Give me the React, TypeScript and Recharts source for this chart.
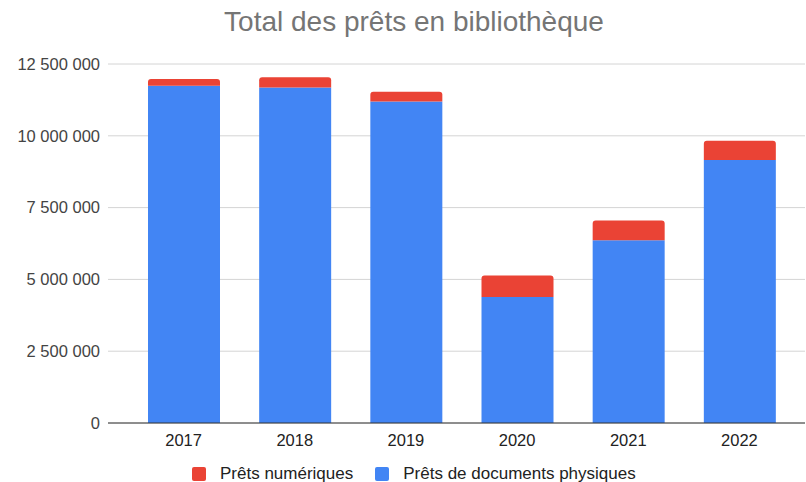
import { BarChart, Bar, XAxis, YAxis, CartesianGrid } from "recharts";

const years = ["2017", "2018", "2019", "2020", "2021", "2022"];
const physical = [11740000, 11680000, 11190000, 4390000, 6360000, 9160000];
const digital = [240000, 360000, 340000, 750000, 690000, 670000];
const yTicks = [0, 2500000, 5000000, 7500000, 10000000, 12500000];

const title = "Total des prêts en bibliothèque";
const physicalName = "Prêts de documents physiques";
const digitalName = "Prêts numériques";

const BLUE = "#4285f4";
const RED = "#ea4335";
const FONT = "'Liberation Sans', Arial, sans-serif";

const data = years.map((year, i) => ({
  year,
  physical: physical[i],
  digital: digital[i],
}));

// French style thousands separator: 12 500 000
const fmt = (v: number) => String(v).replace(/\B(?=(\d{3})+(?!\d))/g, " ");

export default function App() {
  return (
    <div
      style={{
        position: "absolute",
        left: 0,
        top: 0,
        width: 806,
        height: 482,
        background: "#fff",
        fontFamily: FONT,
      }}
    >
      <div
        style={{
          position: "absolute",
          top: 4,
          left: 0,
          width: 828,
          textAlign: "center",
          fontSize: 28,
          lineHeight: "36px",
          color: "#757575",
        }}
      >
        {title}
      </div>
      <BarChart
        width={806}
        height={482}
        data={data}
        margin={{ top: 64, right: 1, bottom: 29, left: 0 }}
      >
        <CartesianGrid vertical={false} stroke="#d4d4d4" />
        <XAxis
          dataKey="year"
          height={30}
          padding={{ left: 20, right: 10 }}
          tickLine={false}
          axisLine={{ stroke: "#333" }}
          tick={{ fill: "#222", fontSize: 16.5, fontFamily: FONT }}
          tickMargin={5}
        />
        <YAxis
          width={108}
          domain={[0, 12500000]}
          ticks={yTicks}
          tickFormatter={fmt}
          axisLine={false}
          tickLine={false}
          tickSize={0}
          tickMargin={8}
          tick={{ fill: "#444", fontSize: 16.5, fontFamily: FONT }}
        />
        <Bar
          dataKey="physical"
          name={physicalName}
          stackId="a"
          fill={BLUE}
          barSize={72}
          isAnimationActive={false}
        />
        <Bar
          dataKey="digital"
          name={digitalName}
          stackId="a"
          fill={RED}
          barSize={72}
          radius={[3, 3, 0, 0]}
          isAnimationActive={false}
        />
      </BarChart>
      <div
        style={{
          position: "absolute",
          top: 464,
          left: 192,
          display: "flex",
          alignItems: "center",
          fontSize: 17,
          color: "#222",
          lineHeight: "20px",
        }}
      >
        <span style={{ width: 14, height: 14, background: RED, borderRadius: 2, marginRight: 14 }} />
        <span style={{ marginRight: 22 }}>{digitalName}</span>
        <span style={{ width: 14, height: 14, background: BLUE, borderRadius: 2, marginRight: 14 }} />
        <span>{physicalName}</span>
      </div>
    </div>
  );
}
